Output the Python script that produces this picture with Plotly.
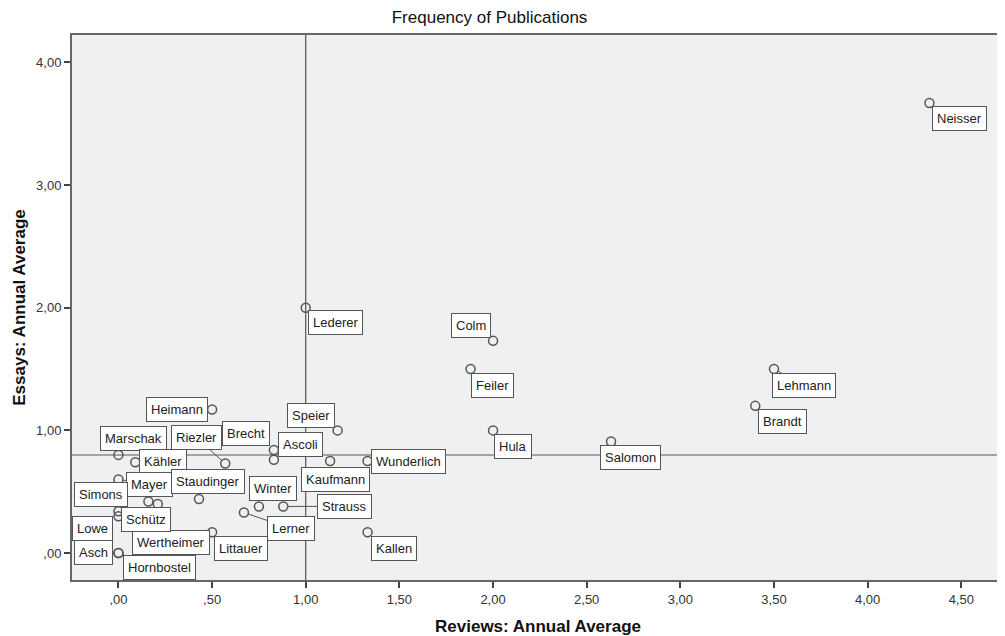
import plotly.graph_objects as go

names = ["Neisser", "Lederer", "Colm", "Feiler", "Lehmann", "Brandt", "Hula", "Salomon",
         "Heimann", "Speier", "Marschak", "Kähler", "Riezler", "Ascoli", "Brecht",
         "Kaufmann", "Wunderlich", "Mayer", "Simons", "Wertheimer", "Staudinger",
         "Schütz", "Lowe", "Winter", "Strauss", "Lerner", "Littauer", "Kallen",
         "Asch", "Hornbostel"]
reviews = [4.33, 1.00, 2.00, 1.88, 3.50, 3.40, 2.00, 2.63,
           0.50, 1.17, 0.00, 0.09, 0.57, 0.83, 0.83,
           1.13, 1.33, 0.00, 0.16, 0.21, 0.43,
           0.00, 0.00, 0.75, 0.88, 0.67, 0.50, 1.33,
           0.00, 0.00]
essays = [3.67, 2.00, 1.73, 1.50, 1.50, 1.20, 1.00, 0.91,
          1.17, 1.00, 0.80, 0.74, 0.73, 0.84, 0.76,
          0.75, 0.75, 0.60, 0.42, 0.40, 0.44,
          0.34, 0.30, 0.38, 0.38, 0.33, 0.17, 0.17,
          0.00, 0.00]

x_ticks = [0, 0.5, 1.0, 1.5, 2.0, 2.5, 3.0, 3.5, 4.0, 4.5]
x_tick_text = [",00", ",50", "1,00", "1,50", "2,00", "2,50", "3,00", "3,50", "4,00", "4,50"]
y_ticks = [0, 1, 2, 3, 4]
y_tick_text = [",00", "1,00", "2,00", "3,00", "4,00"]

ref_reviews = 1.00
ref_essays = 0.80

# label offsets (pixels) and whether a leader line is drawn
label_dx = [30, 30, -22, 22, 30, 27, 20, 19,
            -35, -27, 15, 28, -29, 27, -28,
            5, 41, 31, -47, 13, 9,
            28, -26, 14, 61, 47, 29, 26,
            -25, 41]
label_dy = [16, 15, -15, 16, 16, 16, 16, 16,
            0, -15, -16, -1, -26, -6, -26,
            18, 0, 5, -7, 39, -18,
            8, 12, -18, 0, 16, 16, 16,
            -1, 14]
leader = [False, False, False, False, True, False, False, False,
          False, False, True, False, True, False, False,
          False, False, True, False, False, False,
          False, False, False, True, True, False, False,
          False, True]

FONT = "Liberation Sans, Arial, sans-serif"

fig = go.Figure()
fig.add_trace(go.Scatter(
    x=reviews, y=essays, mode="markers",
    marker=dict(symbol="circle-open", size=9, color="#555555", line=dict(width=1.5)),
    hoverinfo="text", text=names, showlegend=False, cliponaxis=False,
))

# reference lines
fig.add_shape(type="line", xref="x", yref="paper", x0=ref_reviews, x1=ref_reviews, y0=0, y1=1,
              line=dict(color="#333333", width=1), layer="below")
fig.add_shape(type="line", xref="paper", yref="y", x0=0, x1=1, y0=ref_essays, y1=ref_essays,
              line=dict(color="#8a8a8a", width=1.5), layer="below")

for n, xv, yv, dx, dy, ld in zip(names, reviews, essays, label_dx, label_dy, leader):
    fig.add_annotation(
        x=xv, y=yv, xref="x", yref="y", text=n, showarrow=True,
        ax=dx, ay=dy, arrowhead=0, arrowwidth=1,
        arrowcolor="#555555" if ld else "rgba(0,0,0,0)", standoff=4,
        font=dict(family=FONT, size=13, color="#222222"),
        bgcolor="white", bordercolor="#555555", borderwidth=1, borderpad=4,
    )

# the page body adds an 8px offset; the figure is sized to fit the 1005x636 window
fig.update_layout(
    width=997, height=628,
    margin=dict(l=64, r=1, t=27, b=56, autoexpand=False),
    paper_bgcolor="white", plot_bgcolor="#EFF0F2",
    title=dict(text="Frequency of Publications", x=0.483, xref="container", xanchor="center",
               y=0.995, yref="container", yanchor="top",
               font=dict(family=FONT, size=17, color="#111111")),
    font=dict(family=FONT, color="#222222"),
)
fig.update_xaxes(
    automargin=False,
    range=[-0.248, 4.728], tickvals=x_ticks, ticktext=x_tick_text,
    showgrid=False, zeroline=False, showline=True, linecolor="#666666", linewidth=2, mirror=True,
    ticks="outside", ticklen=6, tickwidth=1.5, tickcolor="#444444",
    tickfont=dict(family=FONT, size=13, color="#333333"),
    title=dict(text="<b>Reviews: Annual Average</b>", standoff=16,
               font=dict(family=FONT, size=17, color="#111111")),
)
fig.update_yaxes(
    automargin=False,
    range=[-0.22, 4.224], tickvals=y_ticks, ticktext=y_tick_text,
    showgrid=False, zeroline=False, showline=True, linecolor="#666666", linewidth=2, mirror=True,
    ticks="outside", ticklen=6, tickwidth=1.5, tickcolor="#444444",
    tickfont=dict(family=FONT, size=13, color="#333333"),
    title=dict(text="<b>Essays: Annual Average</b>", standoff=6,
               font=dict(family=FONT, size=17, color="#111111")),
)

fig.write_html("out.html")
